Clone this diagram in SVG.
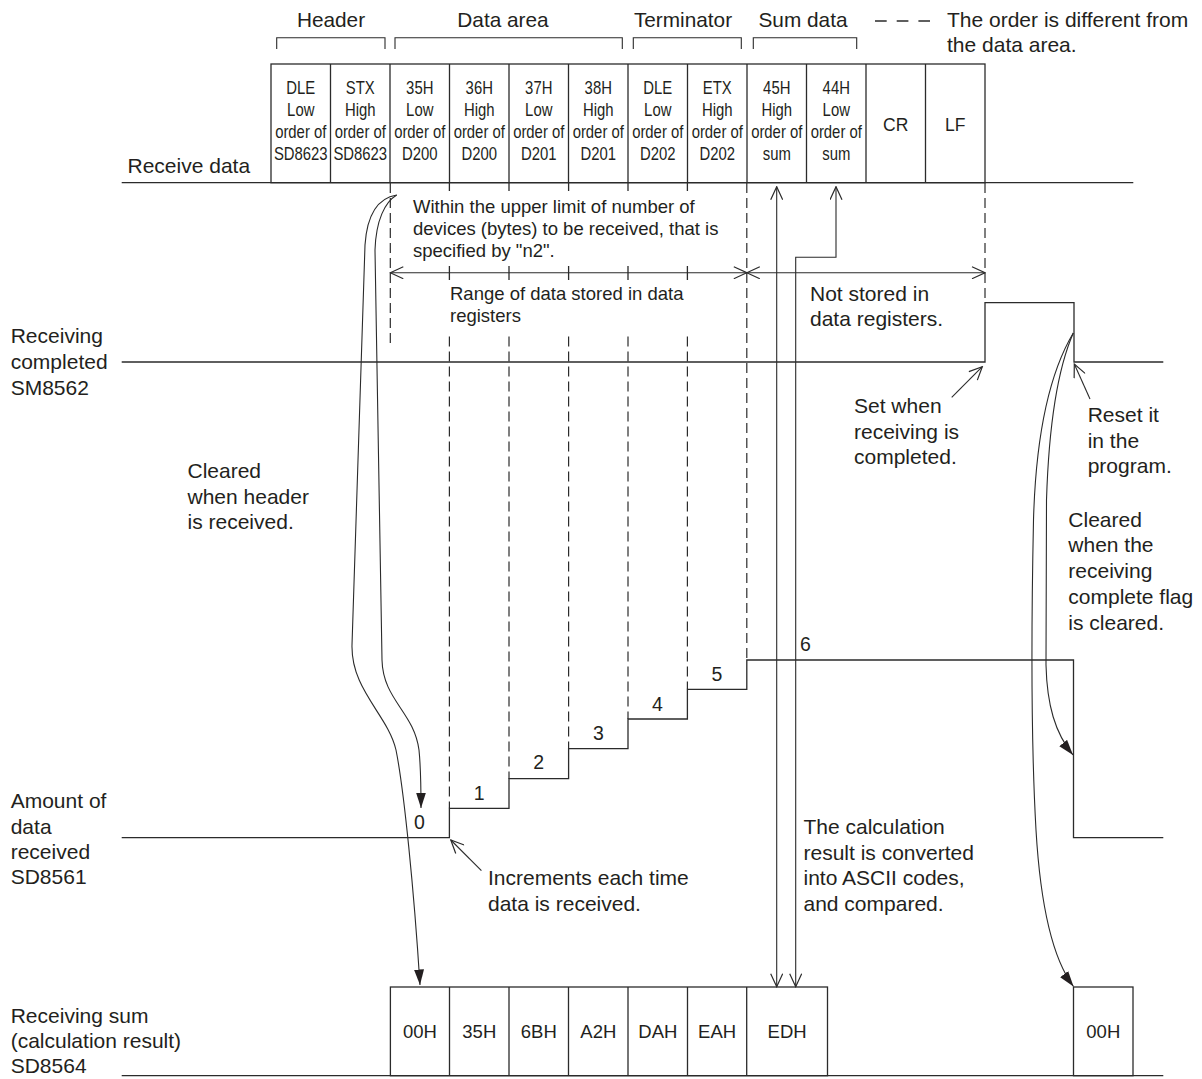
<svg xmlns="http://www.w3.org/2000/svg" width="1202" height="1079" viewBox="0 0 1202 1079">
<defs>
<style>
text{font-family:"Liberation Sans",Arial,sans-serif;fill:#231f20}
.t21{font-size:21px}
.t185{font-size:18.5px}
.cell{font-size:17.5px;text-anchor:middle}
.num{font-size:19.5px;text-anchor:middle}
.bc{font-size:18.5px;text-anchor:middle}
.hd{font-size:20.8px;text-anchor:middle}
.ln{fill:none;stroke:#2b2b2b;stroke-width:1.3}
.thin{fill:none;stroke:#2b2b2b;stroke-width:1.1}
.dash{fill:none;stroke:#2b2b2b;stroke-width:1.2;stroke-dasharray:10 5}
.box{fill:#fff;stroke:#2b2b2b;stroke-width:1.3}
</style>
<marker id="open" viewBox="0 0 15 13" refX="14" refY="6.5" markerWidth="15" markerHeight="13" orient="auto-start-reverse" markerUnits="userSpaceOnUse">
<path d="M1,0.5 L14,6.5 L1,12.5" fill="none" stroke="#2b2b2b" stroke-width="1.2"/>
</marker>
<marker id="solid" viewBox="0 0 16 11" refX="15.5" refY="5.5" markerWidth="16" markerHeight="11" orient="auto" markerUnits="userSpaceOnUse">
<path d="M0,0.5 L15.5,5.5 L0,10.5 z" fill="#231f20"/>
</marker>
</defs>

<g id="section-labels">
<text class="hd" x="331" y="27">Header</text>
<text class="hd" x="503" y="27">Data area</text>
<text class="hd" x="683" y="27">Terminator</text>
<text class="hd" x="803" y="27">Sum data</text>
<path class="thin" d="M276.7,49 V37.7 H385 V49"/>
<path class="thin" d="M395,49 V37.7 H622.3 V49"/>
<path class="thin" d="M633.3,49 V37.7 H741.3 V49"/>
<path class="thin" d="M753.3,49 V37.7 H856.7 V49"/>
</g>

<g id="legend">
<line class="ln" x1="875" y1="21" x2="930" y2="21" stroke-dasharray="11.7 10"/>
<text class="t21" x="947" y="27">The order is different from</text>
<text class="t21" x="947" y="52">the data area.</text>
</g>

<g id="receive-data">
<text class="t21" x="127.5" y="173.3">Receive data</text>
<rect class="box" x="271" y="64" width="714" height="118.7"/>
<path class="ln" d="M330.5,64 V182.7 M390,64 V182.7 M449.5,64 V182.7 M509,64 V182.7 M568.5,64 V182.7 M628,64 V182.7 M687.5,64 V182.7 M747,64 V182.7 M806.5,64 V182.7 M866,64 V182.7 M925.5,64 V182.7"/>
<line class="ln" x1="121.7" y1="182.7" x2="1133.3" y2="182.7"/>
<text class="cell" transform="translate(300.75 94.3) scale(0.85 1)"><tspan x="0">DLE</tspan><tspan x="0" dy="21.9">Low</tspan><tspan x="0" dy="21.9">order of</tspan><tspan x="0" dy="21.9">SD8623</tspan></text>
<text class="cell" transform="translate(360.25 94.3) scale(0.85 1)"><tspan x="0">STX</tspan><tspan x="0" dy="21.9">High</tspan><tspan x="0" dy="21.9">order of</tspan><tspan x="0" dy="21.9">SD8623</tspan></text>
<text class="cell" transform="translate(419.75 94.3) scale(0.85 1)"><tspan x="0">35H</tspan><tspan x="0" dy="21.9">Low</tspan><tspan x="0" dy="21.9">order of</tspan><tspan x="0" dy="21.9">D200</tspan></text>
<text class="cell" transform="translate(479.25 94.3) scale(0.85 1)"><tspan x="0">36H</tspan><tspan x="0" dy="21.9">High</tspan><tspan x="0" dy="21.9">order of</tspan><tspan x="0" dy="21.9">D200</tspan></text>
<text class="cell" transform="translate(538.75 94.3) scale(0.85 1)"><tspan x="0">37H</tspan><tspan x="0" dy="21.9">Low</tspan><tspan x="0" dy="21.9">order of</tspan><tspan x="0" dy="21.9">D201</tspan></text>
<text class="cell" transform="translate(598.25 94.3) scale(0.85 1)"><tspan x="0">38H</tspan><tspan x="0" dy="21.9">High</tspan><tspan x="0" dy="21.9">order of</tspan><tspan x="0" dy="21.9">D201</tspan></text>
<text class="cell" transform="translate(657.75 94.3) scale(0.85 1)"><tspan x="0">DLE</tspan><tspan x="0" dy="21.9">Low</tspan><tspan x="0" dy="21.9">order of</tspan><tspan x="0" dy="21.9">D202</tspan></text>
<text class="cell" transform="translate(717.25 94.3) scale(0.85 1)"><tspan x="0">ETX</tspan><tspan x="0" dy="21.9">High</tspan><tspan x="0" dy="21.9">order of</tspan><tspan x="0" dy="21.9">D202</tspan></text>
<text class="cell" transform="translate(776.75 94.3) scale(0.85 1)"><tspan x="0">45H</tspan><tspan x="0" dy="21.9">High</tspan><tspan x="0" dy="21.9">order of</tspan><tspan x="0" dy="21.9">sum</tspan></text>
<text class="cell" transform="translate(836.25 94.3) scale(0.85 1)"><tspan x="0">44H</tspan><tspan x="0" dy="21.9">Low</tspan><tspan x="0" dy="21.9">order of</tspan><tspan x="0" dy="21.9">sum</tspan></text>
<text class="cell" x="895.75" y="131">CR</text>
<text class="cell" x="955.25" y="131">LF</text>
</g>

<g id="range-annotations">
<path class="dash" d="M390.3,183 V346 M746.8,183 V660 M985,183 V302.7"/>
<path class="ln" d="M449.4,183 V191 M509,183 V191 M568.6,183 V191 M628,183 V191 M687.4,183 V191 M449.4,266 V280 M509,266 V280 M568.6,266 V280 M628,266 V280 M687.4,266 V280"/>
<path class="dash" d="M449.4,336.5 V808.3 M509,336.5 V778.7 M568.6,336.5 V748.7 M628,336.5 V719 M687.4,336.5 V689.3"/>
<text class="t185" x="413" y="213.3">Within the upper limit of number of</text>
<text class="t185" x="413" y="235.3">devices (bytes) to be received, that is</text>
<text class="t185" x="413" y="257.3">specified by "n2".</text>
<text class="t185" x="450" y="300">Range of data stored in data</text>
<text class="t185" x="450" y="322">registers</text>
<text class="t21" x="810" y="300.7">Not stored in</text>
<text class="t21" x="810" y="325.7">data registers.</text>
</g>

<g id="receiving-completed">
<text class="t21" x="10.7" y="343.3">Receiving</text>
<text class="t21" x="10.7" y="369">completed</text>
<text class="t21" x="10.7" y="394.5">SM8562</text>
<path class="ln" d="M121.7,362 H985 V302.7 H1074 V362 H1163.3"/>
<text class="t21" x="854" y="413.3">Set when</text>
<text class="t21" x="854" y="439">receiving is</text>
<text class="t21" x="854" y="464.3">completed.</text>
<text class="t21" x="1087.7" y="422.3">Reset it</text>
<text class="t21" x="1087.7" y="447.5">in the</text>
<text class="t21" x="1087.7" y="473.3">program.</text>
</g>

<g id="notes">
<text class="t21" x="187.5" y="478.3">Cleared</text>
<text class="t21" x="187.5" y="503.5">when header</text>
<text class="t21" x="187.5" y="529.2">is received.</text>
<text class="t21" x="1068.3" y="526.7">Cleared</text>
<text class="t21" x="1068.3" y="552.4">when the</text>
<text class="t21" x="1068.3" y="578.1">receiving</text>
<text class="t21" x="1068.3" y="603.8">complete flag</text>
<text class="t21" x="1068.3" y="629.5">is cleared.</text>
</g>

<g id="amount-received">
<text class="t21" x="10.7" y="808.3">Amount of</text>
<text class="t21" x="10.7" y="833.5">data</text>
<text class="t21" x="10.7" y="858.5">received</text>
<text class="t21" x="10.7" y="884">SD8561</text>
<path class="ln" d="M121.7,837.7 H449.4 V808.3 H509 V778.7 H568.6 V748.7 H628 V719 H687.4 V689.3 H746.8 V660 H1073.5 V837.7 H1163.3"/>
<text class="num" x="419.5" y="829.3">0</text>
<text class="num" x="479.3" y="800">1</text>
<text class="num" x="538.7" y="768.5">2</text>
<text class="num" x="598.5" y="740">3</text>
<text class="num" x="657.5" y="710.7">4</text>
<text class="num" x="717" y="681">5</text>
<text class="num" x="805.5" y="650.7">6</text>
<text class="t21" x="488" y="885">Increments each time</text>
<text class="t21" x="488" y="910.7">data is received.</text>
<text class="t21" x="803.5" y="834">The calculation</text>
<text class="t21" x="803.5" y="859.7">result is converted</text>
<text class="t21" x="803.5" y="885.4">into ASCII codes,</text>
<text class="t21" x="803.5" y="911">and compared.</text>
</g>

<g id="receiving-sum">
<text class="t21" x="10.7" y="1023.3">Receiving sum</text>
<text class="t21" x="10.7" y="1048.3">(calculation result)</text>
<text class="t21" x="10.7" y="1073.3">SD8564</text>
<rect class="box" x="390.4" y="987" width="437.1" height="88.7"/>
<path class="ln" d="M449.5,987 V1075.7 M509,987 V1075.7 M568.5,987 V1075.7 M628,987 V1075.7 M687.5,987 V1075.7 M746.7,987 V1075.7"/>
<rect class="box" x="1073.5" y="987" width="59.5" height="88.7"/>
<line class="ln" x1="121.7" y1="1075.7" x2="1163.3" y2="1075.7"/>
<text class="bc" x="420" y="1038.3">00H</text>
<text class="bc" x="479.3" y="1038.3">35H</text>
<text class="bc" x="538.8" y="1038.3">6BH</text>
<text class="bc" x="598.3" y="1038.3">A2H</text>
<text class="bc" x="657.8" y="1038.3">DAH</text>
<text class="bc" x="717.1" y="1038.3">EAH</text>
<text class="bc" x="787.1" y="1038.3">EDH</text>
<text class="bc" x="1103.3" y="1038.3">00H</text>
</g>

<g id="connectors">
<path class="thin" d="M390.3,272.7 H746.8" marker-start="url(#open)" marker-end="url(#open)"/>
<path class="thin" d="M746.8,272.7 H985" marker-start="url(#open)" marker-end="url(#open)"/>
<path class="thin" d="M776.7,186.7 V986.7" marker-start="url(#open)" marker-end="url(#open)"/>
<path class="thin" d="M836,186.7 V257.3 H795.7 V986.7" marker-start="url(#open)" marker-end="url(#open)"/>
<path class="thin" d="M951.7,397.3 L982.3,366.7" marker-end="url(#open)"/>
<path class="thin" d="M1090,399 L1074.3,364" marker-end="url(#open)"/>
<path class="thin" d="M481.4,870.7 L450.8,840" marker-end="url(#open)"/>
<path class="thin" d="M396.7,195 C378,198 367,215 365,245 L352,645 C351,690 388,715 396,750 C404,790 414,890 420,985" marker-end="url(#solid)"/>
<path class="thin" d="M396.7,195 C385,202 376,220 375,250 L382,660 C383,700 414,712 419,750 C421,770 421,790 421,808" marker-end="url(#solid)"/>
<path class="thin" d="M1073.3,333 C1050,372 1036,430 1033.5,520 C1031,640 1032,760 1036,830 C1041,915 1055,962 1073.5,986.5" marker-end="url(#solid)"/>
<path class="thin" d="M1073.3,333 C1058,368 1049,420 1046.5,500 L1046,665 C1047,705 1055,733 1073,755" marker-end="url(#solid)"/>
</g>
</svg>
